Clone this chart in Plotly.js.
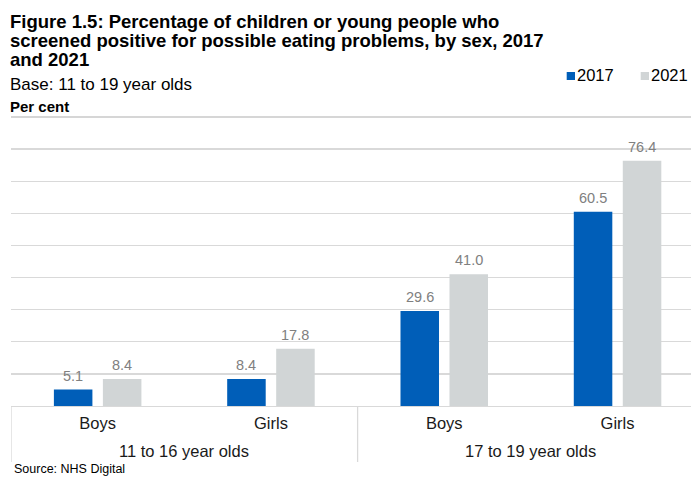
<!DOCTYPE html>
<html>
<head>
<meta charset="utf-8">
<script src="https://cdn.plot.ly/plotly-3.0.1.min.js"></script>
<style>
  html, body { margin: 0; padding: 0; background: #ffffff; }
  #chart { width: 691px; height: 477px; }
</style>
</head>
<body>
<div id="chart"></div>
<script>
// Chart data
const sexes = ['Boys', 'Girls', 'Boys', 'Girls'];
const ageGroups = ['11 to 16 year olds', '17 to 19 year olds'];
const years = ['2017', '2021'];
const values2017 = [5.1, 8.4, 29.6, 60.5];
const values2021 = [8.4, 17.8, 41.0, 76.4];

const titleLines = [
  'Figure 1.5: Percentage of children or young people who',
  'screened positive for possible eating problems, by sex, 2017',
  'and 2021'
];
const baseText = 'Base: 11 to 19 year olds';
const unitText = 'Per cent';
const sourceText = 'Source: NHS Digital';

// Styling
const FONT = 'Liberation Sans, Arial, Helvetica, sans-serif';
const BLUE = '#005EB8';
const GREY = '#D1D5D6';
const GRID = '#D9D9D9';
const LABEL = '#808080';
const INK = '#1A1A1A';

// Plot area geometry (pixels)
const W = 691, H = 477;
const M = { l: 11, r: 0, t: 117, b: 71 };
const PW = W - M.l - M.r, PH = H - M.t - M.b;
const px = x => (x - M.l) / PW;           // page x -> paper x
const py = y => (H - M.b - y) / PH;       // page y -> paper y

const Y_MAX = 90;
const BARGAP = 0.4345;
const GROUPGAP = 0.214;
const slot = (1 - BARGAP) / years.length;

const xs = sexes.map((_, i) => i);

const traces = [
  { type: 'bar', name: years[0], x: xs, y: values2017,
    marker: { color: BLUE }, hoverinfo: 'skip' },
  { type: 'bar', name: years[1], x: xs, y: values2021,
    marker: { color: GREY }, hoverinfo: 'skip' }
];

const annotations = [];

// Value labels above each bar
[values2017, values2021].forEach((vals, j) => {
  vals.forEach((v, i) => {
    annotations.push({
      x: i + (j - (years.length - 1) / 2) * slot, y: v,
      xref: 'x', yref: 'y', text: v.toFixed(1), showarrow: false,
      xanchor: 'center', yanchor: 'middle', yshift: 14,
      font: { family: FONT, size: 14.5, color: LABEL }
    });
  });
});

// Age group labels under the sex labels
ageGroups.forEach((g, k) => {
  annotations.push({
    x: 2 * k + 0.5, y: py(451), xref: 'x', yref: 'paper',
    text: g, showarrow: false, xanchor: 'center', yanchor: 'middle',
    font: { family: FONT, size: 16.5, color: INK }
  });
});

// Title lines
const titleY = [21, 40.5, 59.5];
titleLines.forEach((t, k) => {
  annotations.push({
    x: px(8), y: py(titleY[k]), xref: 'paper', yref: 'paper',
    text: '<b>' + t + '</b>', showarrow: false,
    xanchor: 'left', yanchor: 'middle',
    font: { family: FONT, size: 18.5, color: '#000000' }
  });
});

annotations.push({
  x: px(8), y: py(84.5), xref: 'paper', yref: 'paper', text: baseText,
  showarrow: false, xanchor: 'left', yanchor: 'middle',
  font: { family: FONT, size: 17, color: '#000000' }
});
annotations.push({
  x: px(8), y: py(107), xref: 'paper', yref: 'paper', text: '<b>' + unitText + '</b>',
  showarrow: false, xanchor: 'left', yanchor: 'middle',
  font: { family: FONT, size: 15, color: '#000000' }
});
annotations.push({
  x: px(12), y: py(468.5), xref: 'paper', yref: 'paper', text: sourceText,
  showarrow: false, xanchor: 'left', yanchor: 'middle',
  font: { family: FONT, size: 12.5, color: '#000000' }
});

// Legend: small squares followed by year text
const legendSquareX = [566.7, 640.7];
const shapes = [];
years.forEach((yr, j) => {
  const x0 = legendSquareX[j];
  shapes.push({
    type: 'rect', xref: 'paper', yref: 'paper',
    x0: px(x0), x1: px(x0 + 8.3), y0: py(80), y1: py(72),
    fillcolor: j === 0 ? BLUE : GREY, line: { width: 0 }
  });
  annotations.push({
    x: px(x0 + 8.5), y: py(75.5), xref: 'paper', yref: 'paper', text: yr,
    showarrow: false, xanchor: 'left', yanchor: 'middle',
    font: { family: FONT, size: 16.5, color: '#000000' }
  });
});

// Top gridline along the upper edge of the plot area (value axis maximum)
shapes.push({
  type: 'line', xref: 'paper', yref: 'paper', x0: 0, x1: 1, y0: py(117), y1: py(117),
  layer: 'above', line: { color: '#D6D6D6', width: 2 }
});

// Dividers between age groups below the axis
[-0.5, 1.5, 3.5].forEach(xv => {
  shapes.push({
    type: 'line', xref: 'x', yref: 'paper',
    x0: xv, x1: xv, y0: 0, y1: py(462),
    line: { color: GRID, width: 1.3 }
  });
});

const layout = {
  width: W, height: H,
  margin: M,
  paper_bgcolor: '#ffffff', plot_bgcolor: '#ffffff',
  showlegend: false,
  barmode: 'group', bargap: BARGAP, bargroupgap: GROUPGAP,
  font: { family: FONT, color: INK },
  xaxis: {
    type: 'linear', range: [-0.5, -0.5 + PW / 173.3],
    tickmode: 'array', tickvals: xs, ticktext: sexes,
    ticks: '', showgrid: false, zeroline: false,
    showline: true, linecolor: GRID, linewidth: 1.3,
    ticklabelstandoff: 2,
    tickfont: { family: FONT, size: 16.5, color: INK },
    fixedrange: true
  },
  yaxis: {
    range: [0, Y_MAX], dtick: 10, tick0: 0,
    showticklabels: false, ticks: '',
    showgrid: true, gridcolor: GRID, gridwidth: 1.3,
    zeroline: false, showline: false, fixedrange: true
  },
  annotations: annotations,
  shapes: shapes
};

Plotly.newPlot('chart', traces, layout, { displayModeBar: false, staticPlot: true });
</script>
</body>
</html>
